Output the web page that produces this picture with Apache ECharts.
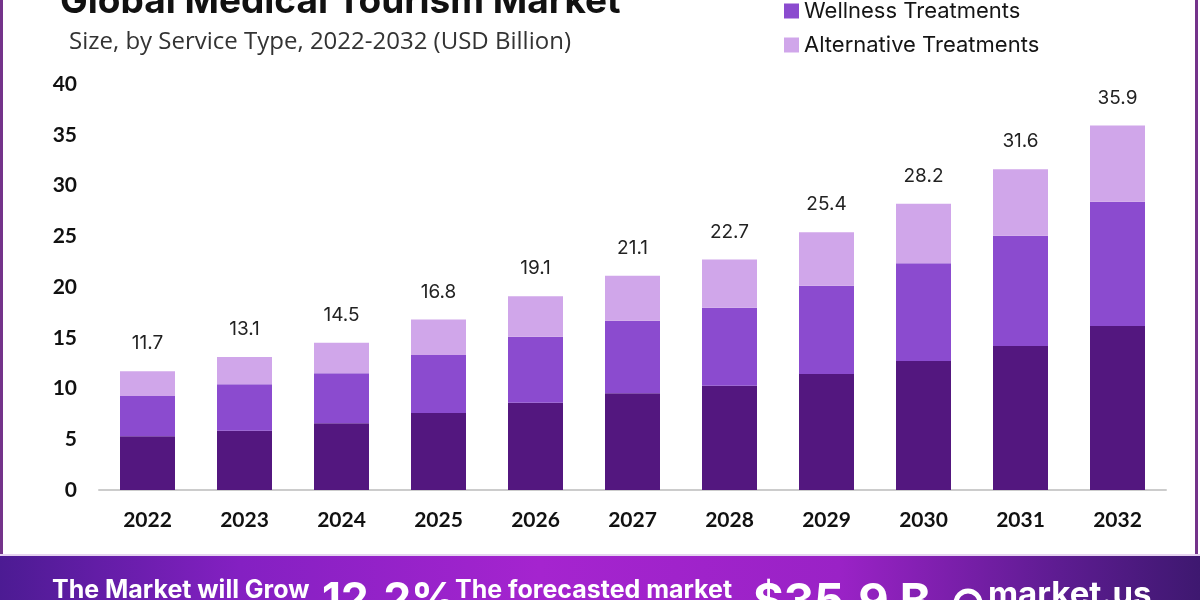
<!DOCTYPE html>
<html>
<head>
<meta charset="utf-8">
<script src="https://cdn.jsdelivr.net/npm/echarts@6/dist/echarts.min.js"></script>
<style>
html,body{margin:0;padding:0;background:#fff;}
#chart{width:1200px;height:600px;}
</style>
</head>
<body>
<div id="chart"></div>
<script>
const years = ['2022','2023','2024','2025','2026','2027','2028','2029','2030','2031','2032'];
const medical = [5.30, 5.84, 6.57, 7.59, 8.60, 9.52, 10.28, 11.43, 12.71, 14.19, 16.16];
const wellness = [3.96, 4.57, 4.93, 5.71, 6.50, 7.16, 7.68, 8.70, 9.62, 10.86, 12.24];
const alternative = [2.44, 2.69, 3.00, 3.50, 4.00, 4.42, 4.74, 5.27, 5.87, 6.55, 7.50];
const totals = ['11.7','13.1','14.5','16.8','19.1','21.1','22.7','25.4','28.2','31.6','35.9'];
const yTicks = [0, 5, 10, 15, 20, 25, 30, 35, 40];

const chart = echarts.init(document.getElementById('chart'));
const colors = ['#53177f', '#8b4bcf', '#d0a6ea'];

const option = {
  animation: false,
  backgroundColor: '#ffffff',
  title: [
    {
      text: 'Global Medical Tourism Market',
      left: 55, top: -22,
      textStyle: {fontFamily: 'Inter', fontWeight: 'bold', fontSize: 37, color: '#111111'}
    },
    {
      text: 'Size, by Service Type, 2022-2032 (USD Billion)',
      left: 64, top: 25,
      textStyle: {fontFamily: 'Open Sans', fontWeight: 'normal', fontSize: 24, color: '#333333'}
    }
  ],
  legend: {
    orient: 'vertical',
    left: 779, top: -39,
    itemWidth: 15, itemHeight: 15, itemGap: 12,
    icon: 'rect',
    textStyle: {fontFamily: 'Inter', fontSize: 22, color: '#151515', lineHeight: 22}
  },
  grid: {left: 99, right: 34, top: 84, bottom: 110},
  xAxis: {
    type: 'category',
    data: years,
    axisLine: {lineStyle: {color: '#cccccc', width: 2}},
    axisTick: {show: false},
    axisLabel: {fontFamily: 'Lato', fontWeight: 'bold', fontSize: 21, color: '#111111', margin: 20}
  },
  yAxis: {
    type: 'value',
    min: yTicks[0], max: yTicks[yTicks.length - 1], interval: 5,
    splitLine: {show: false},
    axisLine: {show: false},
    axisTick: {show: false},
    axisLabel: {fontFamily: 'Lato', fontWeight: 'bold', fontSize: 21, color: '#111111', margin: 22}
  },
  series: [
    {name: 'Medical Treatments', type: 'bar', stack: 't', data: medical, barWidth: 55,
     itemStyle: {color: colors[0]}},
    {name: 'Wellness Treatments', type: 'bar', stack: 't', data: wellness, barWidth: 55,
     itemStyle: {color: colors[1]}},
    {name: 'Alternative Treatments', type: 'bar', stack: 't', data: alternative, barWidth: 55,
     itemStyle: {color: colors[2]},
     label: {show: true, position: 'top', distance: 18,
       formatter: p => totals[p.dataIndex],
       fontFamily: 'Inter', fontSize: 19, color: '#222222'}}
  ],
  graphic: [
    {type: 'rect', left: 0, top: 0, shape: {width: 3, height: 556}, style: {fill: '#74338a'}, silent: true},
    {type: 'rect', left: 1195, top: 0, shape: {width: 3, height: 556}, style: {fill: '#74338a'}, silent: true},
    {type: 'rect', left: 0, top: 554, shape: {width: 1200, height: 2}, style: {fill: '#e6d2f0'}, silent: true},
    {type: 'rect', left: 0, top: 556, shape: {width: 1200, height: 44},
     style: {fill: new echarts.graphic.LinearGradient(0, 0, 1, 0, [
       {offset: 0, color: '#4c1b93'},
       {offset: 0.2, color: '#8420c2'},
       {offset: 0.45, color: '#a524cf'},
       {offset: 0.7, color: '#9a22c6'},
       {offset: 0.88, color: '#5e1c92'},
       {offset: 1, color: '#3e1870'}
     ])}, silent: true},
    {type: 'text', left: 52, top: 578, silent: true,
     style: {text: 'The Market will Grow', fill: '#ffffff', fontFamily: 'Inter', fontWeight: 'bold', fontSize: 25}},
    {type: 'text', left: 322, top: 579, silent: true,
     style: {text: '12.2%', fill: '#ffffff', fontFamily: 'Inter', fontWeight: 'bold', fontSize: 44}},
    {type: 'text', left: 455, top: 578, silent: true,
     style: {text: 'The forecasted market', fill: '#ffffff', fontFamily: 'Inter', fontWeight: 'bold', fontSize: 25}},
    {type: 'text', left: 753, top: 579, silent: true,
     style: {text: '$35.9 B', fill: '#ffffff', fontFamily: 'Inter', fontWeight: 'bold', fontSize: 47}},
    {type: 'circle', shape: {cx: 968, cy: 603, r: 12}, silent: true,
     style: {fill: 'none', stroke: '#ffffff', lineWidth: 5}},
    {type: 'text', left: 988, top: 579, silent: true,
     style: {text: 'market.us', fill: '#ffffff', fontFamily: 'Inter', fontWeight: 'bold', fontSize: 33}}
  ]
};
chart.setOption(option);
</script>
</body>
</html>
